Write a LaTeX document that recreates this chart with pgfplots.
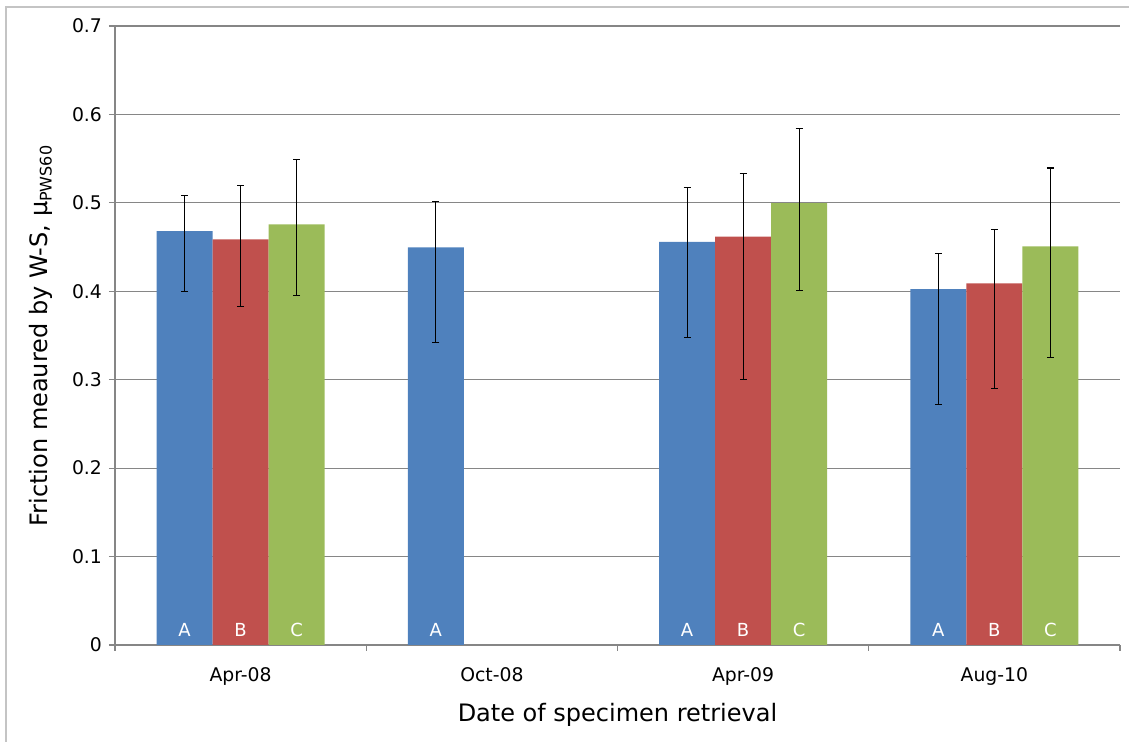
\documentclass[border=0pt]{standalone}
\usepackage{pgfplots}
\pgfplotsset{compat=1.18}
\usepackage{pgfplotstable}
\usepackage{fontspec}
\setmainfont{DejaVu Sans}
\definecolor{barA}{HTML}{4F81BD}
\definecolor{barB}{HTML}{C0504D}
\definecolor{barC}{HTML}{9BBB59}
\definecolor{gridgray}{HTML}{868686}
\definecolor{framegray}{HTML}{C4C4C4}
\pgfplotstableread{
x y ep em
0 0.468 0.040 0.0685
1 0.4497 0.0517 0.108
2 0.456 0.061 0.108
3 0.4025 0.040 0.1305
}\dataA
\pgfplotstableread{
x y ep em
0 0.4587 0.0613 0.0762
2 0.4618 0.0712 0.162
3 0.409 0.061 0.119
}\dataB
\pgfplotstableread{
x y ep em
0 0.4757 0.0733 0.0807
2 0.4998 0.0842 0.0992
3 0.4508 0.0887 0.1258
}\dataC
\begin{document}
\begin{tikzpicture}
\path[use as bounding box] (-57.5pt,-48.5pt) rectangle (507pt,322.5pt);
\draw[framegray, line width=1pt] (-54.5pt,-48.5pt) -- (-54.5pt,319pt) -- (507pt,319pt);
\begin{axis}[
  at={(0,0)}, anchor=south west,
  scale only axis, width=502.5pt, height=309.5pt,
  ybar, bar width=0.2229,
  xmin=-0.5, xmax=3.5, ymin=0, ymax=0.7,
  ytick={0,0.1,0.2,0.3,0.4,0.5,0.6,0.7},
  yticklabels={0,0.1,0.2,0.3,0.4,0.5,0.6,0.7},
  xtick={-0.5,0.5,1.5,2.5,3.5}, xticklabels={{},{},{},{},{}},
  extra x ticks={0,1,2,3},
  extra x tick labels={Apr-08,Oct-08,Apr-09,Aug-10},
  extra x tick style={major tick length=0pt},
  axis x line*=bottom, axis y line*=left,
  axis line style={draw=gridgray, line width=0.6pt, -},
  tick style={draw=gridgray, line width=0.6pt},
  tick align=outside, major tick length=3pt,
  ymajorgrids=true,
  grid style={draw=gridgray, line width=0.6pt},
  /pgf/number format/assume math mode=true,
  ticklabel style={font=\fontsize{9.4}{11}\selectfont},
  xticklabel style={anchor=base, yshift=-18.3pt},
  xlabel={Date of specimen retrieval},
  ylabel={Friction meaured by W-S, μ\textsubscript{PWS60}},
  label style={font=\fontsize{12}{14}\selectfont},
  xlabel style={at={(axis description cs:0.5,0)}, anchor=base, yshift=-38.3pt},
  ylabel style={at={(axis description cs:0,0.5)}, anchor=base, yshift=33.5pt},
  error bars/error mark=|,
  error bars/error bar style={draw=black, line width=0.6pt},
  error bars/error mark options={draw=black, mark size=1.75pt, line width=0.6pt},
  every node near coord/.append style={anchor=base, yshift=4pt, text=white, font=\fontsize{9}{11}\selectfont},
]
\addplot[fill=barA, draw=none, bar shift=-0.2229,
  error bars/.cd, y dir=both, y explicit]
  table[x=x, y=y, y error plus=ep, y error minus=em]{\dataA};
\addplot[fill=barB, draw=none, bar shift=0,
  error bars/.cd, y dir=both, y explicit]
  table[x=x, y=y, y error plus=ep, y error minus=em]{\dataB};
\addplot[fill=barC, draw=none, bar shift=0.2229,
  error bars/.cd, y dir=both, y explicit]
  table[x=x, y=y, y error plus=ep, y error minus=em]{\dataC};
\addplot[draw=none, fill=none, bar shift=-0.2229, nodes near coords={A}]
  coordinates {(0,0) (1,0) (2,0) (3,0)};
\addplot[draw=none, fill=none, bar shift=0, nodes near coords={B}]
  coordinates {(0,0) (2,0) (3,0)};
\addplot[draw=none, fill=none, bar shift=0.2229, nodes near coords={C}]
  coordinates {(0,0) (2,0) (3,0)};
\end{axis}
\end{tikzpicture}
\end{document}
